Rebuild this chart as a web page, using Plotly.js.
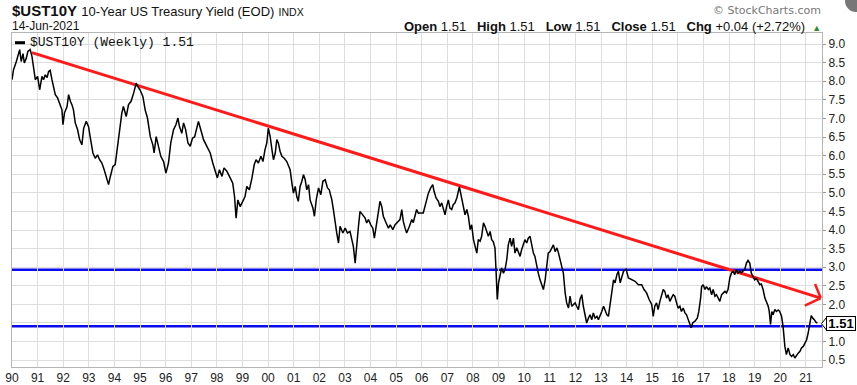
<!DOCTYPE html>
<html><head><meta charset="utf-8">
<script src="https://cdn.plot.ly/plotly-3.0.1.min.js"></script>
<style>html,body{margin:0;padding:0;background:#fff;}#chart{width:857px;height:385px;}</style>
</head><body><div id="chart"></div>
<script>
// Weekly 10-year yield (decimal years)
const dates = [
1990.00,1990.06,1990.17,1990.26,1990.30,1990.36,1990.43,1990.48,1990.56,1990.62,1990.71,1990.78,1990.84,1990.91,
1991.00,1991.08,1991.17,1991.23,1991.30,1991.37,1991.43,1991.49,1991.56,1991.62,1991.69,1991.78,1991.86,1991.95,1991.99,
1992.05,1992.15,1992.21,1992.28,1992.34,1992.40,1992.47,1992.56,1992.64,1992.73,1992.80,1992.90,1992.99,
1993.05,1993.16,1993.25,1993.34,1993.42,1993.51,1993.60,1993.71,1993.77,1993.84,1993.94,
1994.03,1994.10,1994.19,1994.29,1994.35,1994.46,1994.55,1994.65,1994.75,1994.85,1994.92,
1995.00,1995.11,1995.20,1995.29,1995.40,1995.50,1995.55,1995.63,1995.72,1995.81,1995.92,
1996.01,1996.11,1996.20,1996.31,1996.40,1996.48,1996.54,1996.63,1996.70,1996.78,1996.87,1996.96,
1997.05,1997.13,1997.22,1997.28,1997.35,1997.48,1997.61,1997.74,1997.84,1997.93,
1998.02,1998.10,1998.20,1998.28,1998.39,1998.52,1998.62,1998.69,1998.75,1998.82,1998.91,
1999.01,1999.10,1999.17,1999.27,1999.37,1999.46,1999.53,1999.62,1999.72,1999.80,1999.88,1999.95,
2000.01,2000.08,2000.15,2000.21,2000.28,2000.34,2000.40,2000.47,2000.54,2000.63,2000.73,2000.79,2000.86,2000.93,2000.99,
2001.06,2001.12,2001.18,2001.25,2001.32,2001.38,2001.45,2001.51,2001.58,2001.64,2001.75,2001.81,2001.88,2001.97,
2002.06,2002.14,2002.23,2002.32,2002.39,2002.49,2002.55,2002.62,2002.68,2002.75,2002.81,2002.92,
2003.01,2003.10,2003.20,2003.27,2003.33,2003.40,2003.46,2003.53,2003.59,2003.70,2003.79,2003.85,2003.92,
2004.01,2004.09,2004.15,2004.24,2004.31,2004.37,2004.44,2004.50,2004.61,2004.70,2004.77,2004.87,2004.96,
2005.05,2005.15,2005.22,2005.28,2005.35,2005.41,2005.52,2005.61,2005.67,2005.74,2005.80,2005.87,2005.93,
2006.06,2006.17,2006.26,2006.35,2006.43,2006.48,2006.56,2006.65,2006.71,2006.78,2006.84,2006.91,2006.97,
2007.04,2007.10,2007.17,2007.23,2007.30,2007.37,2007.43,2007.47,2007.52,2007.60,2007.69,2007.76,2007.82,2007.89,2007.95,
2008.02,2008.08,2008.15,2008.21,2008.28,2008.34,2008.41,2008.47,2008.54,2008.60,2008.67,2008.73,2008.79,2008.86,2008.90,2008.95,
2009.00,2009.06,2009.12,2009.19,2009.25,2009.32,2009.38,2009.45,2009.51,2009.58,2009.64,2009.71,2009.77,2009.84,2009.90,2009.96,
2010.03,2010.10,2010.16,2010.23,2010.29,2010.36,2010.42,2010.49,2010.55,2010.62,2010.69,2010.75,2010.82,2010.88,2010.94,
2011.01,2011.08,2011.14,2011.21,2011.28,2011.34,2011.40,2011.47,2011.53,2011.60,2011.66,2011.73,2011.79,2011.86,2011.92,2011.99,
2012.05,2012.12,2012.18,2012.25,2012.31,2012.38,2012.44,2012.51,2012.57,2012.64,2012.70,2012.77,2012.84,2012.90,2012.96,
2013.03,2013.10,2013.16,2013.23,2013.29,2013.36,2013.42,2013.49,2013.55,2013.62,2013.68,2013.75,2013.88,2013.98,
2014.07,2014.20,2014.33,2014.46,2014.59,2014.68,2014.78,2014.88,2014.98,
2015.04,2015.10,2015.17,2015.23,2015.30,2015.36,2015.43,2015.49,2015.56,2015.62,2015.69,2015.75,2015.82,2015.88,2015.95,
2016.01,2016.08,2016.14,2016.21,2016.28,2016.34,2016.41,2016.47,2016.52,2016.58,2016.67,2016.76,2016.82,2016.89,2016.93,2016.99,
2017.06,2017.12,2017.19,2017.25,2017.32,2017.38,2017.45,2017.51,2017.58,2017.64,2017.71,2017.77,2017.84,2017.90,2017.96,
2018.03,2018.09,2018.16,2018.22,2018.29,2018.35,2018.42,2018.48,2018.55,2018.61,2018.68,2018.74,2018.81,2018.87,2018.94,
2019.00,2019.07,2019.13,2019.20,2019.26,2019.33,2019.40,2019.46,2019.53,2019.57,2019.62,2019.67,2019.72,2019.79,2019.85,2019.92,2019.98,
2020.05,2020.11,2020.18,2020.24,2020.31,2020.38,2020.44,2020.51,2020.57,2020.64,2020.70,2020.77,2020.83,2020.90,2020.96,
2021.03,2021.09,2021.16,2021.21,2021.27,2021.33,2021.39,2021.45
];
const yields = [
8.04,8.31,8.53,8.71,8.85,8.53,8.74,8.49,8.62,8.80,8.85,8.67,8.40,8.04,
8.13,7.77,8.13,8.04,8.17,8.10,8.26,8.29,8.04,7.82,7.64,7.55,7.37,7.23,6.83,
7.15,7.32,7.64,7.46,7.37,7.23,6.88,6.70,6.43,6.29,6.74,6.92,6.78,
6.51,6.07,5.93,6.02,5.89,5.80,5.62,5.40,5.22,5.44,5.71,
5.76,6.16,6.70,7.15,7.32,7.05,7.37,7.46,7.68,7.95,7.85,
7.77,7.59,7.23,7.01,6.51,6.29,6.07,6.51,6.20,5.98,5.84,
5.53,5.80,6.34,6.70,6.83,7.01,6.78,6.60,6.88,6.70,6.34,6.25,
6.47,6.50,6.78,6.92,6.75,6.43,6.25,6.07,5.80,5.62,
5.40,5.62,5.44,5.67,5.58,5.40,5.26,4.90,4.32,4.81,4.63,
4.77,4.90,5.17,5.08,5.40,5.76,5.89,5.80,5.98,5.84,6.16,6.34,
6.74,6.52,6.16,5.89,6.07,6.43,6.34,6.11,5.98,5.93,5.84,5.71,5.62,5.26,4.99,
5.17,4.90,4.77,5.17,5.31,5.49,5.35,5.08,5.22,4.81,4.59,4.37,4.81,5.13,
4.95,5.31,5.35,5.13,5.08,4.81,4.55,4.14,3.92,3.65,4.10,3.92,
4.05,3.92,3.96,3.74,3.56,3.11,3.65,4.10,4.50,4.41,4.32,4.19,4.28,
4.14,4.05,3.78,4.19,4.63,4.77,4.63,4.37,4.19,4.05,4.14,4.01,4.14,
4.20,4.28,4.55,4.23,4.05,3.92,4.10,4.28,4.20,4.41,4.55,4.45,4.46,
4.46,4.77,4.99,5.13,5.22,5.04,4.86,4.77,4.63,4.73,4.55,4.41,4.63,
4.81,4.59,4.55,4.68,4.73,4.86,5.08,5.16,4.99,4.73,4.41,4.55,4.37,4.01,4.14,
3.74,3.56,3.38,3.74,3.70,3.83,4.19,4.10,3.96,3.83,3.96,3.74,3.69,3.52,2.93,2.13,
2.58,2.84,2.98,2.84,2.93,3.20,3.60,3.78,3.56,3.78,3.38,3.52,3.42,3.29,3.47,3.60,
3.74,3.65,3.78,3.83,3.60,3.38,3.29,3.02,2.84,2.66,2.53,2.40,2.66,3.02,3.38,
3.42,3.52,3.60,3.42,3.52,3.38,3.20,3.07,2.84,2.31,2.04,1.90,2.22,1.95,2.00,2.04,
1.95,1.86,2.13,2.26,1.95,1.68,1.50,1.63,1.72,1.59,1.77,1.63,1.68,1.59,1.72,
1.81,1.95,1.86,1.72,1.68,2.04,2.40,2.66,2.58,2.80,2.89,2.58,2.89,2.95,
2.71,2.66,2.62,2.53,2.53,2.40,2.31,2.13,2.00,
1.68,1.95,2.04,1.86,2.08,2.26,2.40,2.35,2.17,2.26,2.08,2.17,2.26,2.22,2.00,
1.90,1.95,1.81,1.90,1.77,1.72,1.59,1.46,1.37,1.50,1.55,1.63,1.81,2.17,2.48,2.53,
2.40,2.48,2.40,2.44,2.26,2.40,2.22,2.26,2.17,2.08,2.26,2.30,2.35,2.31,2.40,
2.71,2.84,2.89,2.80,2.93,2.84,2.89,2.85,2.90,2.93,3.11,3.18,3.11,2.84,2.75,
2.66,2.70,2.62,2.53,2.55,2.40,2.17,2.08,1.95,1.81,1.46,1.81,1.72,1.86,1.81,1.85,1.81,
1.68,1.41,0.87,0.65,0.83,0.65,0.60,0.65,0.56,0.65,0.69,0.74,0.83,0.87,0.96,
1.05,1.23,1.59,1.70,1.63,1.59,1.52,1.50
];
const yearTicks = [1990,1991,1992,1993,1994,1995,1996,1997,1998,1999,2000,2001,2002,2003,2004,2005,2006,2007,2008,2009,2010,2011,2012,2013,2014,2015,2016,2017,2018,2019,2020,2021];
const yearLabels = ['90','91','92','93','94','95','96','97','98','99','00','01','02','03','04','05','06','07','08','09','10','11','12','13','14','15','16','17','18','19','20','21'];
const yTicks = [0.5,1.0,1.5,2.0,2.5,3.0,3.5,4.0,4.5,5.0,5.5,6.0,6.5,7.0,7.5,8.0,8.5,9.0];
const yLabels = ['0.5','1.0','','2.0','2.5','3.0','3.5','4.0','4.5','5.0','5.5','6.0','6.5','7.0','7.5','8.0','8.5','9.0'];
const trendX = [1990.78, 2021.58];
const trendY = [8.77, 2.17];
const arrowArmX = [2021.36, 2020.96];
const arrowArmY = [2.55, 1.97];
const levels = [2.93, 1.41];
const lastValue = '1.51';
const lastLabelLevel = 1.48;
const headerStats = [['Open','1.51'],['High','1.51'],['Low','1.51'],['Close','1.51'],['Chg','+0.04 (+2.72%)']];

const W = 857, H = 385, ML = 12, MR = 35, MT = 33, MB = 18;
const PW = W - ML - MR, PH = H - MT - MB;
const px = x => (x - ML) / PW;
const py = y => (H - MB - y) / PH;

const shapes = [];
levels.forEach(v => shapes.push({type:'line', xref:'paper', x0:0, x1:1, yref:'y', y0:v, y1:v,
  line:{color:'#0b0bef', width:2.5}, layer:'between'}));
shapes.push({type:'line', xref:'x', yref:'y', x0:trendX[0], y0:trendY[0], x1:trendX[1], y1:trendY[1],
  line:{color:'#ff1a1a', width:3}, layer:'between'});
arrowArmX.forEach((ax,i) => shapes.push({type:'line', xref:'x', yref:'y', x0:ax, y0:arrowArmY[i], x1:trendX[1], y1:trendY[1],
  line:{color:'#ff1a1a', width:2.5}, layer:'above'}));
// legend dash
shapes.push({type:'line', xref:'paper', yref:'paper', x0:px(15), x1:px(25), y0:py(42.7), y1:py(42.7), line:{color:'#000', width:3}});
// last value pointer
shapes.push({type:'path', xref:'paper', yref:'y', path:`M ${px(821.5)},${lastLabelLevel} L ${px(826.5)},${lastLabelLevel+0.17} L ${px(826.5)},${lastLabelLevel-0.17} Z`,
  fillcolor:'#fff', line:{color:'#000', width:1}});
// logo
shapes.push({type:'circle', xref:'paper', yref:'paper', x0:px(845), x1:px(867), y0:py(12), y1:py(-10), fillcolor:'#777', line:{width:0}});

const statsText = headerStats.map(s => `<b>${s[0]}</b> ${s[1]}`).join('&nbsp;&nbsp;&nbsp;') + '&nbsp; <span style="color:#2e8b2e;font-size:9px">▲</span>';

const annotations = [
  {xref:'paper', yref:'paper', x:px(10), y:py(10.5), xanchor:'left', yanchor:'middle', showarrow:false,
   text:'<b>$UST10Y</b> <span style="font-size:13px">10-Year US Treasury Yield (EOD)</span> <span style="font-size:10.5px">INDX</span>',
   font:{family:'Liberation Sans, Arial', size:15, color:'#111'}},
  {xref:'paper', yref:'paper', x:px(10), y:py(26.5), xanchor:'left', yanchor:'middle', showarrow:false,
   text:'14-Jun-2021', font:{family:'Liberation Sans, Arial', size:12, color:'#111'}},
  {xref:'paper', yref:'paper', x:px(823), y:py(26.5), xanchor:'right', yanchor:'middle', showarrow:false,
   text:statsText, font:{family:'Liberation Sans, Arial', size:13, color:'#111'}},
  {xref:'paper', yref:'paper', x:px(823), y:py(10), xanchor:'right', yanchor:'middle', showarrow:false,
   text:'© StockCharts.com', font:{family:'DejaVu Sans', size:11, color:'#777'}},
  {xref:'paper', yref:'paper', x:px(28), y:py(42.7), xanchor:'left', yanchor:'middle', showarrow:false,
   text:'$UST10Y (Weekly) 1.51', font:{family:'Liberation Mono, monospace', size:13, color:'#111'}},
  {xref:'paper', yref:'y', x:px(826), y:lastLabelLevel, xanchor:'left', yanchor:'middle', showarrow:false,
   text:'<b>'+lastValue+'</b>', font:{family:'Liberation Sans, Arial', size:13, color:'#000'},
   bgcolor:'#fff', bordercolor:'#000', borderwidth:1, borderpad:0, width:28, height:13}
];

const trace = {x:dates, y:yields, type:'scatter', mode:'lines', line:{color:'#000', width:1.5}, hoverinfo:'skip'};

const layout = {
  width:W, height:H, margin:{l:ML, r:MR, t:MT, b:MB},
  paper_bgcolor:'#fff', plot_bgcolor:'#fff', showlegend:false,
  font:{family:'Liberation Sans, Arial', size:12, color:'#222'},
  xaxis:{range:[1990.0, 2021.63], tickvals:yearTicks, ticktext:yearLabels, showgrid:true, gridcolor:'#dedede', gridwidth:1,
    zeroline:false, showline:true, mirror:true, linecolor:'#b5b5b5', ticks:'', tickfont:{size:12, color:'#222'}},
  yaxis:{range:[0.317, 9.296], side:'right', tickvals:yTicks, ticktext:yLabels, showgrid:true, gridcolor:'#dedede',
    zeroline:false, showline:true, mirror:true, linecolor:'#b5b5b5', ticks:'outside', ticklen:3, tickcolor:'#999',
    tickfont:{size:12, color:'#222'}},
  shapes:shapes, annotations:annotations
};
Plotly.newPlot('chart', [trace], layout, {displayModeBar:false, staticPlot:true});
</script></body></html>
